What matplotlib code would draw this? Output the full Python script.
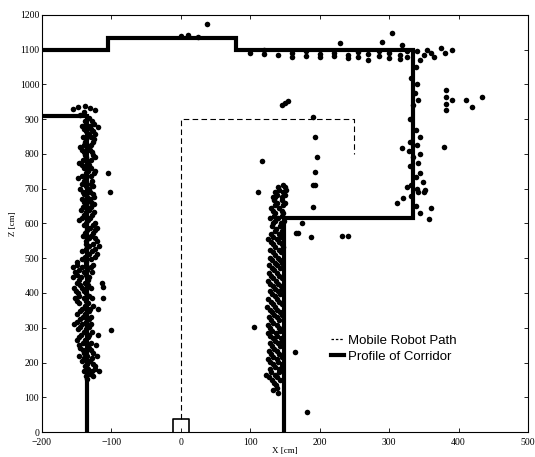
import matplotlib
matplotlib.use("Agg")
import matplotlib.pyplot as plt
from matplotlib.lines import Line2D

# ---- data ----
x_ticks = [-200, -100, 0, 100, 200, 300, 400, 500]
y_ticks = [0, 100, 200, 300, 400, 500, 600, 700, 800, 900, 1000, 1100, 1200]

# corridor profile (polylines)
corridor_left_x = [-200, -135, -135]
corridor_left_y = [910, 910, 0]
corridor_top_x = [-200, -105, -105, 80, 80, 335, 335, 148, 148]
corridor_top_y = [1100, 1100, 1133, 1133, 1100, 1100, 615, 615, 0]

# mobile robot path
path_x = [0, 0, 250, 250]
path_y = [38, 900, 900, 800]
robot_box_x = [-11, -11, 11, 11]
robot_box_y = [0, 38, 38, 0]

# laser scan points: left wall
left_scan = [
    (-156, 930), (-148, 935), (-138, 938), (-131, 932), (-124, 926), (-145, 912),
    (-138, 895), (-128, 895), (-143, 880), (-131, 880), (-120, 878),
    (-136, 865), (-126, 865), (-141, 850), (-130, 850), (-138, 835), (-127, 835),
    (-145, 820), (-133, 820), (-140, 805), (-128, 805), (-136, 790), (-124, 790),
    (-146, 775), (-134, 775), (-140, 760), (-129, 760), (-137, 745), (-125, 745),
    (-148, 730), (-136, 730), (-142, 715), (-130, 715), (-145, 700), (-133, 700),
    (-139, 685), (-127, 685), (-143, 670), (-131, 670), (-137, 655), (-125, 655),
    (-144, 640), (-132, 640), (-140, 625), (-128, 625), (-146, 610), (-134, 610),
    (-139, 595), (-127, 595), (-135, 580), (-123, 580), (-141, 565), (-129, 565),
    (-137, 550), (-121, 550), (-133, 535), (-118, 535), (-142, 520), (-128, 520),
    (-138, 505), (-124, 505), (-150, 490), (-136, 490), (-155, 475), (-143, 475),
    (-130, 475), (-152, 460), (-140, 460), (-128, 460), (-156, 445), (-144, 445),
    (-132, 445), (-150, 430), (-138, 430), (-154, 415), (-142, 415), (-130, 415),
    (-148, 400), (-136, 400), (-152, 385), (-140, 385), (-128, 385), (-146, 370),
    (-134, 370), (-143, 355), (-131, 355), (-119, 355), (-150, 340), (-138, 340),
    (-145, 325), (-133, 325), (-154, 310), (-142, 310), (-130, 310), (-148, 295),
    (-136, 295), (-144, 280), (-132, 280), (-120, 280), (-150, 265), (-138, 265),
    (-146, 250), (-134, 250), (-122, 250), (-141, 235), (-129, 235), (-147, 220),
    (-135, 220), (-121, 220), (-143, 205), (-131, 205), (-138, 190), (-124, 190),
    (-140, 175), (-128, 175), (-118, 175), (-136, 160), (-126, 160),
    (-140, 922), (-133, 903), (-136, 887), (-125, 887), (-139, 872), (-129, 872),
    (-133, 857), (-123, 857), (-136, 842), (-125, 842), (-140, 827), (-129, 827),
    (-143, 812), (-131, 812), (-138, 797), (-127, 797), (-141, 782), (-130, 782),
    (-143, 767), (-132, 767), (-134, 752), (-124, 752), (-142, 737), (-130, 737),
    (-139, 722), (-128, 722), (-137, 707), (-126, 707), (-141, 692), (-131, 692),
    (-135, 677), (-125, 677), (-140, 662), (-129, 662), (-141, 647), (-130, 647),
    (-136, 632), (-125, 632), (-142, 617), (-131, 617), (-136, 602), (-124, 602),
    (-131, 587), (-121, 587), (-138, 572), (-126, 572), (-133, 557), (-124, 557),
    (-136, 542), (-126, 542), (-137, 527), (-124, 527), (-133, 512), (-121, 512),
    (-143, 497), (-130, 497), (-149, 482), (-137, 482), (-126, 482), (-147, 467),
    (-135, 467), (-149, 452), (-136, 452), (-147, 437), (-134, 437), (-145, 422),
    (-134, 422), (-151, 407), (-139, 407), (-146, 392), (-133, 392), (-149, 377),
    (-137, 377), (-138, 362), (-127, 362), (-145, 347), (-133, 347), (-141, 332),
    (-129, 332), (-149, 317), (-137, 317), (-145, 302), (-133, 302), (-140, 287),
    (-128, 287), (-146, 272), (-134, 272), (-141, 257), (-129, 257), (-145, 242),
    (-133, 242), (-139, 227), (-127, 227), (-140, 212), (-128, 212), (-135, 197),
    (-127, 197), (-134, 182), (-124, 182), (-131, 167), (-135, 152),
    (-105, 745), (-102, 690), (-112, 417), (-100, 293), (-112, 385), (-114, 429),
]

# laser scan points: lower right wall
right_scan = [
    (140, 705), (150, 705), (135, 690), (147, 690), (133, 675), (145, 675),
    (138, 660), (150, 660), (130, 645), (142, 645), (135, 630), (147, 630),
    (128, 615), (140, 615), (132, 600), (144, 600), (137, 585), (130, 570),
    (142, 570), (126, 555), (138, 555), (133, 540), (145, 540), (129, 525),
    (141, 525), (136, 510), (131, 495), (143, 495), (127, 480), (139, 480),
    (134, 465), (130, 450), (142, 450), (125, 435), (137, 435), (132, 420),
    (144, 420), (128, 405), (140, 405), (135, 390), (130, 375), (142, 375),
    (124, 360), (136, 360), (131, 345), (143, 345), (127, 330), (139, 330),
    (133, 315), (129, 300), (141, 300), (125, 285), (137, 285), (132, 270),
    (144, 270), (128, 255), (140, 255), (134, 240), (130, 225), (142, 225),
    (126, 210), (138, 210), (133, 195), (145, 195), (129, 180), (141, 180),
    (123, 165), (135, 165), (131, 150), (143, 150), (137, 135), (133, 120),
    (147, 712), (141, 697), (152, 697), (139, 682), (150, 682), (134, 667),
    (146, 667), (135, 652), (147, 652), (133, 637), (145, 637), (134, 622),
    (146, 622), (136, 607), (148, 607), (131, 592), (143, 592), (135, 577),
    (146, 577), (132, 562), (144, 562), (130, 547), (141, 547), (136, 532),
    (147, 532), (132, 517), (144, 517), (129, 502), (140, 502), (135, 487),
    (146, 487), (131, 472), (143, 472), (127, 457), (138, 457), (133, 442),
    (145, 442), (129, 427), (140, 427), (135, 412), (146, 412), (131, 397),
    (143, 397), (126, 382), (138, 382), (133, 367), (145, 367), (128, 352),
    (139, 352), (134, 337), (146, 337), (130, 322), (142, 322), (126, 307),
    (138, 307), (131, 292), (143, 292), (128, 277), (139, 277), (135, 262),
    (146, 262), (131, 247), (143, 247), (127, 232), (138, 232), (133, 217),
    (145, 217), (129, 202), (140, 202), (135, 187), (146, 187), (130, 172),
    (142, 172), (127, 157), (138, 157), (134, 142), (139, 127), (140, 112),
    (166, 572), (164, 230), (106, 302),
]

# laser scan points: upper corridor and right wall
upper_scan = [
    (100, 1092), (120, 1088), (120, 1098), (140, 1085), (160, 1090), (160, 1080),
    (180, 1095), (180, 1083), (200, 1088), (200, 1078), (220, 1092), (220, 1082),
    (240, 1086), (240, 1075), (255, 1093), (255, 1080), (270, 1088), (270, 1070),
    (285, 1095), (285, 1082), (300, 1090), (300, 1076), (315, 1085), (315, 1072),
    (325, 1095), (325, 1080), (0, 1140), (10, 1142), (25, 1138),
    (229, 1119), (289, 1122), (304, 1148), (318, 1114), (355, 1100), (374, 1104),
    (391, 1100), (344, 1070), (350, 1085), (360, 1092), (340, 1095), (365, 1078),
    (380, 1090), (37, 1174),
    (338, 1050), (332, 1020), (340, 1000), (337, 975), (342, 955), (335, 940),
    (330, 900), (338, 870), (345, 850), (330, 835), (340, 825), (319, 817),
    (328, 810), (345, 800), (335, 790), (342, 775), (330, 765), (344, 745),
    (338, 735), (348, 720), (332, 710), (340, 700), (350, 690), (325, 705),
    (311, 660), (320, 672), (331, 680), (342, 690), (351, 697), (360, 645),
    (358, 613), (338, 650), (345, 630), (379, 820),
    (382, 985), (382, 965), (382, 945), (382, 927), (391, 955), (411, 955),
    (420, 935), (433, 964),
    (190, 907), (193, 850), (196, 791), (193, 748), (190, 711),
    (145, 940), (150, 947), (155, 952),
    (193, 711), (190, 647), (188, 561), (232, 564), (240, 564), (175, 601),
    (168, 572), (135, 676), (117, 780), (111, 690), (181, 58),
]

# ---- plot ----
fig = plt.figure(figsize=(5.35, 4.57), dpi=100)
ax = fig.add_axes([0.0785, 0.0547, 0.9085, 0.9125])

for pts in (left_scan, right_scan, upper_scan):
    xs = [p[0] for p in pts]
    ys = [p[1] for p in pts]
    ax.plot(xs, ys, 'o', color='black', ms=4.0, mew=0)

ax.plot(corridor_left_x, corridor_left_y, color='black', lw=3.0, solid_joinstyle='miter')
ax.plot(corridor_top_x, corridor_top_y, color='black', lw=3.0, solid_joinstyle='miter')
ax.plot(path_x, path_y, color='black', lw=0.8, ls=(0, (5, 3)))
ax.plot(robot_box_x, robot_box_y, color='black', lw=1.2)

ax.set_xlim(-200, 500)
ax.set_ylim(0, 1200)
ax.set_xticks(x_ticks)
ax.set_yticks(y_ticks)
ax.tick_params(direction='in', length=3, width=0.6, labelsize=7,
               top=True, right=True, pad=2)
ax.tick_params(axis='x', pad=4)
for lab in ax.get_xticklabels() + ax.get_yticklabels():
    lab.set_family('Liberation Serif')
for s in ax.spines.values():
    s.set_linewidth(0.8)

ax.set_xlabel('X [cm]', fontsize=6.5, family='Liberation Serif', labelpad=0)
ax.set_ylabel('Z [cm]', fontsize=6.5, family='Liberation Serif', labelpad=2)

handles = [Line2D([], [], color='black', lw=0.9, ls=(0, (2, 1.5))),
           Line2D([], [], color='black', lw=3.0)]
ax.legend(handles, ['Mobile Robot Path', 'Profile of Corridor'],
          loc='center left', bbox_to_anchor=(0.57, 0.2), frameon=False,
          prop={'family': 'Liberation Sans', 'size': 9.5},
          handlelength=1.0, handletextpad=0.3, labelspacing=0.3)

fig.savefig('out.png', dpi=100)
